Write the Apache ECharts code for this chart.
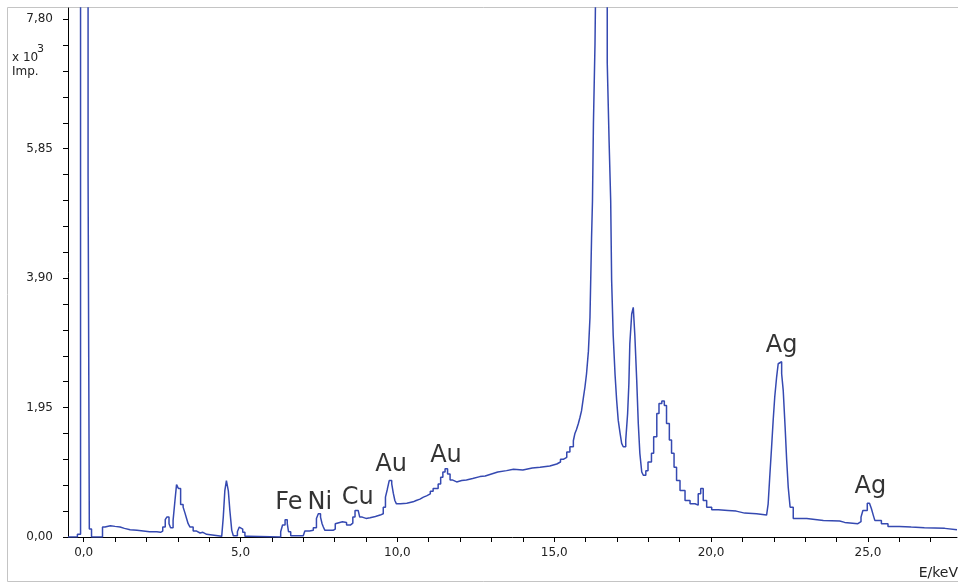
<!DOCTYPE html>
<html>
<head>
<meta charset="utf-8">
<script src="https://cdn.jsdelivr.net/npm/echarts@6/dist/echarts.min.js"></script>
<style>html,body{margin:0;padding:0;background:#fff}#chart{width:958px;height:583px}</style>
</head>
<body>
<div id="chart"></div>
<script>
// Energy (keV) breakpoints of the stepped spectrum and counts (x10^3 Imp.)
const energy = [
-0.5,-0.2,-0.1,0.14,0.18,0.25,0.6,0.68,0.85,1.0,1.16,1.3,1.48,1.7,1.9,2.1,2.33,2.45,2.52,2.6,2.65,2.72,2.77,2.85,2.91,2.96,3.02,3.09,3.17,3.23,3.28,3.33,3.39,3.49,3.6,3.71,3.8,3.92,4.4,4.45,4.5,4.55,4.61,4.66,4.72,4.77,4.9,4.96,5.02,5.07,5.14,5.25,
6.28,6.34,6.42,6.49,6.53,6.6,7.0,7.05,7.2,7.32,7.42,7.48,7.55,7.6,7.64,7.69,7.95,8.02,8.07,8.25,8.38,8.5,8.58,8.65,8.75,8.8,8.88,9.0,9.13,9.3,9.45,9.55,9.62,9.68,9.74,9.82,9.87,9.92,9.97,
10.1,10.3,10.5,10.6,10.72,10.83,10.93,11.05,11.14,11.3,11.38,11.45,11.52,11.6,11.68,11.75,11.89,12.05,12.2,12.4,12.63,12.8,13.0,13.2,13.48,13.7,14.0,14.3,14.55,14.86,15.08,15.2,15.29,15.4,15.5,15.61,15.66,15.71,15.77,15.82,15.87,15.93,15.98,
16.03,16.09,16.14,16.19,16.22,16.25,16.3,16.35,16.69,16.75,16.8,16.83,16.88,16.94,16.99,17.04,17.1,17.15,17.2,17.28,17.34,17.38,17.41,17.47,17.52,17.57,17.63,17.68,17.73,17.79,17.84,17.92,17.99,
18.1,18.17,18.27,18.34,18.43,18.51,18.58,18.67,18.74,18.82,18.9,19.01,19.17,19.33,19.49,19.59,19.67,19.75,19.86,20.02,20.23,20.54,20.8,21.07,21.45,21.77,21.82,21.87,21.93,21.98,
22.03,22.09,22.14,22.2,22.25,22.3,22.36,22.41,22.46,22.52,22.62,23.05,23.58,24.1,24.26,24.68,24.78,24.84,24.98,25.05,25.11,25.17,25.22,25.43,25.64,26.0,26.38,26.8,27.45,27.84
];
const counts = [
0.0,0.04,40,5.45,0.12,0.0,0.15,0.17,0.16,0.15,0.13,0.11,0.10,0.09,0.08,0.08,0.07,0.09,0.15,0.26,0.30,0.20,0.14,0.25,0.55,0.79,0.73,0.49,0.45,0.36,0.28,0.20,0.15,0.09,0.06,0.07,0.04,0.01,0.03,0.30,0.70,0.85,0.70,0.40,0.10,0.02,0.08,0.15,0.12,0.07,0.01,0.0,
0.08,0.18,0.26,0.20,0.08,0.02,0.05,0.09,0.10,0.14,0.28,0.35,0.30,0.20,0.15,0.10,0.12,0.20,0.23,0.22,0.18,0.21,0.30,0.40,0.38,0.30,0.28,0.29,0.31,0.33,0.35,0.45,0.60,0.72,0.85,0.80,0.66,0.55,0.50,
0.51,0.53,0.55,0.57,0.60,0.62,0.65,0.69,0.73,0.80,0.90,0.98,1.03,0.95,0.86,0.83,0.85,0.86,0.88,0.91,0.92,0.95,0.98,1.00,1.02,1.01,1.04,1.05,1.07,1.10,1.13,1.17,1.20,1.28,1.36,1.45,1.56,1.62,1.71,1.80,1.90,2.10,2.26,
2.46,2.80,3.31,4.50,5.07,6.23,7.43,9.50,7.15,5.95,5.07,3.87,3.04,2.44,2.06,1.76,1.56,1.41,1.36,1.46,1.86,2.31,2.91,3.36,3.46,3.04,2.36,1.71,1.26,0.98,0.93,1.00,1.13,
1.26,1.51,1.86,2.01,2.05,1.98,1.71,1.46,1.26,1.05,0.85,0.70,0.55,0.50,0.48,0.65,0.73,0.55,0.45,0.41,0.40,0.39,0.36,0.35,0.33,0.35,0.50,0.90,1.36,1.76,
2.11,2.41,2.61,2.64,2.46,2.21,1.66,1.16,0.75,0.45,0.28,0.25,0.24,0.22,0.20,0.23,0.30,0.40,0.51,0.48,0.43,0.33,0.25,0.20,0.16,0.15,0.14,0.13,0.11,0.10
];
// Axis ticks and labels
const xTicks = [0,1,2,3,4,5,6,7,8,9,10,11,12,13,14,15,16,17,18,19,20,21,22,23,24,25,26,27];
const xLabels = [0,5,10,15,20,25];
const yTicks = [0,0.39,0.78,1.17,1.56,1.95,2.34,2.73,3.12,3.51,3.90,4.29,4.68,5.07,5.46,5.85,6.24,6.63,7.02,7.41,7.80];
const yLabels = [0,1.95,3.90,5.85,7.80];
// Element annotations
const annotText = ['Fe','Ni','Cu','Au','Au','Ag','Ag'];
const annotE = [6.54,7.53,8.74,9.80,11.55,22.25,25.08];
const annotV = [0.51,0.51,0.59,1.09,1.22,2.88,0.75];

const lineData = energy.map((e,i)=>[e,counts[i]]);
const annotData = annotText.map((t,i)=>[annotE[i],annotV[i],t]);

const chart = echarts.init(document.getElementById('chart'), null, {renderer:'canvas'});
const axisFont = {fontFamily:'DejaVu Sans', fontSize:12, color:'#222'};
chart.setOption({
  animation:false,
  backgroundColor:'#fff',
  grid:{left:68, right:1, top:8, bottom:46, containLabel:false, outerBoundsMode:'none'},
  xAxis:{
    type:'value', min:-0.5, max:27.84,
    axisLine:{onZero:false, lineStyle:{color:'#000', width:1}},
    axisTick:{show:true, length:5, lineStyle:{color:'#000'}, customValues:xTicks},
    axisLabel:Object.assign({margin:10, customValues:xLabels,
      formatter:v=>v.toFixed(1).replace('.',',')}, axisFont),
    splitLine:{show:false}
  },
  yAxis:{
    type:'value', min:0, max:7.97,
    axisLine:{show:true, onZero:false, lineStyle:{color:'#000', width:1}},
    axisTick:{show:true, length:5, lineStyle:{color:'#000'}, customValues:yTicks},
    axisLabel:Object.assign({margin:15, customValues:yLabels,
      formatter:v=>v.toFixed(2).replace('.',',')}, axisFont),
    splitLine:{show:false}
  },
  series:[
    {type:'line', data:lineData, step:'end', symbol:'none', clip:true,
     lineStyle:{color:'#3549b1', width:1.5}},
    {type:'scatter', data:annotData, symbolSize:0, silent:true,
     label:{show:true, position:'inside', formatter:p=>p.data[2],
       fontFamily:'DejaVu Sans', fontSize:24, color:'#000'}}
  ],
  graphic:[
    {type:'rect', shape:{x:7.5, y:7.5, width:960, height:574}, style:{fill:'none', stroke:'#c4c4c4', lineWidth:1}, silent:true},
    {type:'text', left:12, top:52, style:{text:'x 10', font:'12px "DejaVu Sans"', fill:'#222'}},
    {type:'text', left:37, top:44, style:{text:'3', font:'11px "DejaVu Sans"', fill:'#222'}},
    {type:'text', left:12, top:66, style:{text:'Imp.', font:'12px "DejaVu Sans"', fill:'#222'}},
    {type:'text', right:0, top:566, style:{text:'E/keV', font:'14px "DejaVu Sans"', fill:'#222'}}
  ]
});
</script>
</body>
</html>
